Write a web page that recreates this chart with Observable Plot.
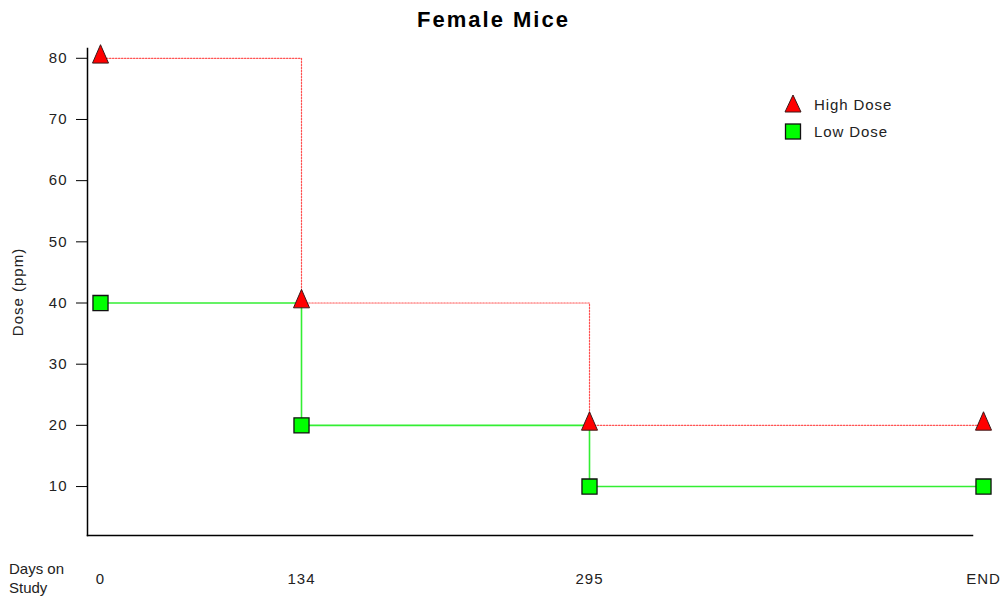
<!DOCTYPE html>
<html>
<head>
<meta charset="utf-8">
<script src="https://cdn.jsdelivr.net/npm/d3@7"></script>
<script src="https://cdn.jsdelivr.net/npm/@observablehq/plot@0.6"></script>
<style>
  body { margin: 0; background: #fff; font-family: "Liberation Sans", Arial, sans-serif; }
  #wrap { position: relative; width: 1005px; height: 600px; }
  #title { height: 38px; line-height: 40px; text-align: center; font-weight: bold; font-size: 22px; letter-spacing: 2px; color: #000; padding-right: 18px; }
  .legend { position: absolute; left: 782px; font-size: 15px; letter-spacing: 0.9px; color: #222; display: flex; align-items: center; }
  .legend svg { margin-right: 10px; }
  #xlab { position: absolute; left: 9px; top: 559px; font-size: 15px; line-height: 19px; color: #222; }
  #chart svg text { letter-spacing: 1px; }
</style>
</head>
<body>
<div id="wrap">
  <div id="title">Female Mice</div>
  <div id="chart"></div>
  <div id="xlab">Days on<br>Study</div>
</div>
<script>
// ---- data ----
const dayLabels = ["0", "134", "295", "END"];
const stepIndex = [0, 1, 2, 3];
const highDose = [80, 40, 20, 20];
const lowDose = [40, 20, 10, 10];
const seriesNames = ["High Dose", "Low Dose"];
const yTicks = [10, 20, 30, 40, 50, 60, 70, 80];

const rows = [];
stepIndex.forEach((s, i) => {
  rows.push({step: s, dose: highDose[i], series: seriesNames[0]});
});
stepIndex.forEach((s, i) => {
  rows.push({step: s, dose: lowDose[i], series: seriesNames[1]});
});
const high = rows.filter(d => d.series === seriesNames[0]);
const low = rows.filter(d => d.series === seriesNames[1]);

const tallTriangle = {
  draw(context, size) {
    const r = Math.sqrt(size / Math.PI);
    context.moveTo(0, -1.7 * r);
    context.lineTo(r, 0.6 * r);
    context.lineTo(-r, 0.6 * r);
    context.closePath();
  }
};

const chart = Plot.plot({
  width: 1005,
  height: 562,
  marginLeft: 87,
  marginRight: 33,
  marginTop: 10,
  marginBottom: 65,
  style: {fontFamily: "'Liberation Sans', Arial, sans-serif", fontSize: "15px", color: "#222", background: "#fff"},
  x: {type: "linear", domain: stepIndex, range: [100, 301, 589, 983]},
  y: {domain: [2, 81.6]},
  marks: [
    Plot.frame({anchor: "left", stroke: "#000", strokeWidth: 1.5}),
    Plot.frame({anchor: "bottom", stroke: "#000", strokeWidth: 1.5}),
    Plot.axisY({ticks: yTicks, tickSize: 11, tickPadding: 9, label: "Dose (ppm)", labelAnchor: "center", labelArrow: "none", labelOffset: 75, stroke: "#000", fontSize: 15}),
    Plot.axisX({ticks: stepIndex, tickFormat: i => dayLabels[i], tickSize: 0, tickPadding: 38, label: null, fontSize: 15}),
    Plot.line(high, {x: "step", y: "dose", curve: "step-after", stroke: "#ff4a4a", strokeWidth: 1.2, strokeDasharray: "1.5,1.5", strokeOpacity: 0.95}),
    Plot.line(low, {x: "step", y: "dose", curve: "step-after", stroke: "#33ee33", strokeWidth: 1.6}),
    Plot.dot(high, {x: "step", y: "dose", symbol: tallTriangle, r: 8, fill: "#ff0000", stroke: "#3a1a1a", strokeWidth: 1}),
    Plot.dot(low, {x: "step", y: "dose", symbol: "square", r: 8.5, fill: "#00ff00", stroke: "#111", strokeWidth: 1.3})
  ]
});
document.getElementById("chart").appendChild(chart);

// legend
const wrap = document.getElementById("wrap");
const legendItems = [
  {name: seriesNames[0], top: 93, svg: '<svg width="22" height="22"><path d="M11 2 L19 19 L3 19 Z" fill="#ff0000" stroke="#3a1a1a" stroke-width="1"/></svg>'},
  {name: seriesNames[1], top: 120, svg: '<svg width="22" height="22"><rect x="3.5" y="4" width="15" height="15" fill="#00ff00" stroke="#111" stroke-width="1.3"/></svg>'}
];
legendItems.forEach(it => {
  const div = document.createElement("div");
  div.className = "legend";
  div.style.top = it.top + "px";
  div.innerHTML = it.svg + "<span>" + it.name + "</span>";
  wrap.appendChild(div);
});
</script>
</body>
</html>
